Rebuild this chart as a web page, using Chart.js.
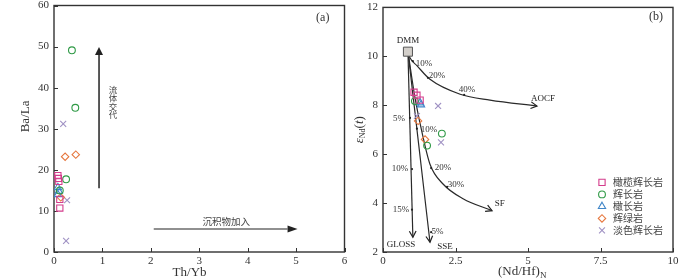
<!DOCTYPE html>
<html>
<head>
<meta charset="utf-8">
<script src="https://cdn.jsdelivr.net/npm/chart.js@4.4.1/dist/chart.umd.min.js"></script>
<style>
  html, body { margin: 0; padding: 0; background: #fff; }
  #wrap { position: relative; width: 700px; height: 280px; }
  canvas { position: absolute; top: 0; }
  #chartA { left: 0; }
  #chartB { left: 350px; }
</style>
</head>
<body>
<div id="wrap">
  <canvas id="chartA" width="350" height="280"></canvas>
  <canvas id="chartB" width="350" height="280"></canvas>
</div>
<script>
// rock types
const seriesNames  = ['橄榄辉长岩', '辉长岩', '橄长岩', '辉绿岩', '淡色辉长岩'];
const seriesColors = ['#d43c8c', '#2f9a46', '#4086c8', '#e6773e', '#a092c4'];
const seriesShapes = ['rect', 'circle', 'triangle', 'rectRot', 'crossRot'];
const seriesRadius = [4.4, 3.4, 4.2, 3.7, 4.2];

// (a) Th/Yb vs Ba/La
const aOlGabbro    = [[0.08, 18.6], [0.09, 17.9], [0.10, 17.2], [0.12, 12.8], [0.12, 10.7]];
const aGabbro      = [[0.37, 49.1], [0.44, 35.1], [0.25, 17.7], [0.12, 15.0]];
const aTroctolite  = [[0.08, 15.7], [0.10, 14.8], [0.08, 14.0]];
const aDiabase     = [[0.23, 23.2], [0.45, 23.7], [0.14, 13.3]];
const aLeucogabbro = [[0.19, 31.2], [0.27, 12.6], [0.25, 2.7]];

// (b) (Nd/Hf)N vs eNd(t)
const bOlGabbro    = [[1.07, 8.53], [1.17, 8.41], [1.28, 8.21]];
const bGabbro      = [[1.10, 8.17], [2.03, 6.84], [1.52, 6.35]];
const bTroctolite  = [[1.28, 8.10], [1.31, 8.02]];
const bDiabase     = [[1.21, 7.36], [1.45, 6.60]];
const bLeucogabbro = [[1.90, 7.97], [1.17, 7.56], [2.00, 6.48]];

// mixing curves from DMM
const dmm       = [[0.86, 10.19]];
const curveAOCF = [[0.86, 10.19], [0.93, 9.94], [1.17, 9.62], [1.62, 9.06], [2.66, 8.45], [3.69, 8.21], [5.31, 7.97]];
const curveSF   = [[0.86, 10.19], [1.10, 8.33], [1.34, 6.92], [1.62, 5.59], [2.07, 4.78], [2.76, 4.18], [3.76, 3.69]];
const lineGLOSS = [[0.86, 10.19], [1.03, 2.60]];
const lineSSE   = [[0.86, 10.19], [1.62, 2.40]];
const mixDots   = [[1.03, 9.80], [1.55, 9.12], [2.80, 8.42], [0.93, 7.48], [1.00, 5.39], [1.00, 3.73],
                   [1.66, 2.81], [1.17, 7.04], [1.66, 5.43], [2.21, 4.66]];

const SERIF = "'Liberation Serif', 'DejaVu Serif', serif";
const CJK = "'Noto Sans CJK SC', sans-serif";

const toXY = arr => arr.map(p => ({ x: p[0], y: p[1] }));

function pointSets(groups) {
  return groups.map((g, i) => ({
    label: seriesNames[i],
    data: toXY(g),
    pointStyle: seriesShapes[i],
    pointRadius: seriesRadius[i],
    pointBorderColor: seriesColors[i],
    pointBackgroundColor: 'rgba(0,0,0,0)',
    pointBorderWidth: 1.1,
    showLine: false,
    order: 0
  }));
}

function curveSet(arr) {
  return {
    data: toXY(arr),
    showLine: true,
    pointRadius: 0,
    borderColor: '#2a2a2a',
    borderWidth: 1.2,
    cubicInterpolationMode: 'monotone',
    fill: false,
    order: 10
  };
}

function makeOptions(o) {
  const tickFont = { family: SERIF, size: 11 };
  return {
    responsive: false,
    animation: false,
    devicePixelRatio: 1,
    layout: { padding: { top: 4, right: o.padRight, left: 0, bottom: 0 } },
    plugins: { legend: { display: false }, tooltip: { enabled: false } },
    scales: {
      x: {
        type: 'linear', min: o.xMin, max: o.xMax,
        grid: { display: false, drawTicks: false }, border: { display: false },
        ticks: { stepSize: o.xStep, padding: 3, color: '#333', font: tickFont, maxRotation: 0, autoSkip: false },
        afterFit(s) { s.height = 28; s.paddingLeft = 0; s.paddingRight = 0; }
      },
      y: {
        type: 'linear', min: o.yMin, max: o.yMax,
        grid: { display: false, drawTicks: false }, border: { display: false },
        ticks: { stepSize: o.yStep, padding: 5, color: '#333', font: tickFont, autoSkip: false },
        afterFit(s) { s.width = o.yWidth; s.paddingTop = 0; s.paddingBottom = 0; }
      }
    }
  };
}

// frame with inward tick marks
const frameTicks = {
  id: 'frameTicks',
  beforeDatasetsDraw(chart) {
    const { ctx, chartArea: a, scales: { x, y } } = chart;
    ctx.save();
    ctx.strokeStyle = '#333';
    ctx.lineWidth = 1;
    ctx.beginPath();
    x.ticks.forEach(t => {
      const p = Math.round(x.getPixelForValue(t.value)) + 0.5;
      ctx.moveTo(p, a.bottom); ctx.lineTo(p, a.bottom - 4);
    });
    y.ticks.forEach(t => {
      const p = Math.round(y.getPixelForValue(t.value)) + 0.5;
      ctx.moveTo(a.left, p); ctx.lineTo(a.left + 4, p);
    });
    ctx.stroke();
    ctx.lineWidth = 1.4;
    ctx.strokeRect(a.left, a.top, a.right - a.left, a.bottom - a.top);
    ctx.restore();
  }
};

function text(ctx, s, px, py, font, color, align) {
  ctx.font = font;
  ctx.fillStyle = color || '#333';
  ctx.textAlign = align || 'center';
  ctx.textBaseline = 'middle';
  ctx.fillText(s, px, py);
}

function openHead(ctx, x0, y0, x1, y1, len) {
  const ang = Math.atan2(y1 - y0, x1 - x0);
  ctx.beginPath();
  ctx.moveTo(x1 - len * Math.cos(ang - 0.5), y1 - len * Math.sin(ang - 0.5));
  ctx.lineTo(x1, y1);
  ctx.lineTo(x1 - len * Math.cos(ang + 0.5), y1 - len * Math.sin(ang + 0.5));
  ctx.stroke();
}

function solidArrow(ctx, x0, y0, x1, y1, len, half, lw) {
  const ang = Math.atan2(y1 - y0, x1 - x0);
  const bx = x1 - len * Math.cos(ang), by = y1 - len * Math.sin(ang);
  ctx.lineWidth = lw;
  ctx.beginPath(); ctx.moveTo(x0, y0); ctx.lineTo(bx, by); ctx.stroke();
  ctx.beginPath();
  ctx.moveTo(x1, y1);
  ctx.lineTo(bx + half * Math.sin(ang), by - half * Math.cos(ang));
  ctx.lineTo(bx - half * Math.sin(ang), by + half * Math.cos(ang));
  ctx.closePath(); ctx.fill();
}

// ---------- panel (a) ----------
const annotA = {
  id: 'annotA',
  afterDatasetsDraw(chart) {
    const { ctx, scales: { x, y } } = chart;
    const X = v => x.getPixelForValue(v), Y = v => y.getPixelForValue(v);
    ctx.save();
    ctx.strokeStyle = '#222'; ctx.fillStyle = '#222';
    solidArrow(ctx, X(0.93), Y(15.5), X(0.93), Y(49.9), 8, 4, 1.5);
    solidArrow(ctx, X(2.06), Y(5.6), X(5.03), Y(5.6), 10, 3.5, 1.2);
    const chars = ['流', '体', '交', '代'];
    chars.forEach((c, i) => text(ctx, c, X(1.22), Y(39.5) + i * 8.4, '8.5px ' + CJK, '#444'));
    text(ctx, '沉积物加入', X(3.56), Y(7.5), '9.5px ' + CJK, '#444');
    text(ctx, '(a)', X(5.55), Y(56.9), '12px ' + SERIF, '#333');
    // axis titles
    text(ctx, 'Th/Yb', X(2.8), 273, '13px ' + SERIF, '#333');
    ctx.translate(26, Y(33));
    ctx.rotate(-Math.PI / 2);
    text(ctx, 'Ba/La', 0, 0, '13px ' + SERIF, '#333');
    ctx.restore();
  }
};

new Chart(document.getElementById('chartA'), {
  type: 'scatter',
  data: { datasets: pointSets([aOlGabbro, aGabbro, aTroctolite, aDiabase, aLeucogabbro]) },
  options: makeOptions({ xMin: 0, xMax: 6, xStep: 1, yMin: 0, yMax: 60, yStep: 10, padRight: 5, yWidth: 54 }),
  plugins: [frameTicks, annotA]
});

// ---------- panel (b) ----------
const pctLabels = [
  ['10%', 1.41, 9.70], ['20%', 1.86, 9.22], ['40%', 2.90, 8.65],
  ['5%', 0.55, 7.44], ['10%', 0.59, 5.39], ['15%', 0.62, 3.73], ['5%', 1.88, 2.85],
  ['10%', 1.59, 7.00], ['20%', 2.07, 5.43], ['30%', 2.52, 4.74]
];
const endLabels = [
  ['DMM', 0.86, 10.63], ['AOCF', 5.52, 8.25], ['SF', 4.03, 3.98], ['GLOSS', 0.62, 2.32], ['SSE', 2.14, 2.20]
];

const annotB = {
  id: 'annotB',
  afterDatasetsDraw(chart) {
    const { ctx, chartArea: a, scales: { x, y } } = chart;
    const X = v => x.getPixelForValue(v), Y = v => y.getPixelForValue(v);
    ctx.save();
    ctx.strokeStyle = '#222'; ctx.lineWidth = 1.2;
    [curveAOCF, curveSF, lineGLOSS, lineSSE].forEach(c => {
      const p = c[c.length - 2], q = c[c.length - 1];
      openHead(ctx, X(p[0]), Y(p[1]), X(q[0]), Y(q[1]), 7);
    });
    ctx.fillStyle = '#222';
    mixDots.forEach(d => { ctx.beginPath(); ctx.arc(X(d[0]), Y(d[1]), 1.1, 0, Math.PI * 2); ctx.fill(); });
    pctLabels.forEach(l => text(ctx, l[0], X(l[1]), Y(l[2]), '9px ' + SERIF, '#333'));
    endLabels.forEach(l => text(ctx, l[0], X(l[1]), Y(l[2]), '9px ' + SERIF, '#222'));
    text(ctx, '(b)', X(9.41), Y(11.6), '12px ' + SERIF, '#333');

    // legend
    const lx = a.left + 219, ly = a.top + 175;
    seriesNames.forEach((n, i) => {
      const yy = ly + i * 12;
      ctx.strokeStyle = seriesColors[i];
      ctx.fillStyle = 'rgba(0,0,0,0)';
      ctx.lineWidth = 1.1;
      if (Chart.helpers && Chart.helpers.drawPoint) {
        Chart.helpers.drawPoint(ctx, { pointStyle: seriesShapes[i], radius: seriesRadius[i], rotation: 0, borderWidth: 1.1 }, lx, yy);
      }
      text(ctx, n, lx + 11, yy, '10px ' + CJK, '#444', 'left');
    });

    // axis titles
    ctx.font = '13px ' + SERIF;
    const t1 = '(Nd/Hf)';
    const w1 = ctx.measureText(t1).width;
    ctx.font = '9px ' + SERIF;
    const w2 = ctx.measureText('N').width;
    const cx = X(4.8), startX = cx - (w1 + w2) / 2;
    text(ctx, t1, startX, 272, '13px ' + SERIF, '#333', 'left');
    text(ctx, 'N', startX + w1, 276, '9px ' + SERIF, '#333', 'left');

    ctx.translate(10, Y(7.0));
    ctx.rotate(-Math.PI / 2);
    const parts = [['ε', 'italic 13px ' + SERIF, 0], ['Nd', '8px ' + SERIF, 3], ['(', '13px ' + SERIF, 0], ['t', 'italic 13px ' + SERIF, 0], [')', '13px ' + SERIF, 0]];
    let total = 0;
    parts.forEach(p => { ctx.font = p[1]; p.push(ctx.measureText(p[0]).width); total += p[3]; });
    let px = -total / 2;
    parts.forEach(p => { text(ctx, p[0], px, p[2], p[1], '#333', 'left'); px += p[3]; });
    ctx.restore();
  }
};

const bDatasets = pointSets([bOlGabbro, bGabbro, bTroctolite, bDiabase, bLeucogabbro]).concat([
  curveSet(curveAOCF), curveSet(curveSF), curveSet(lineGLOSS), curveSet(lineSSE),
  {
    data: toXY(dmm), showLine: false, pointStyle: 'rect', pointRadius: 6.4,
    pointBackgroundColor: '#d3cfca', pointBorderColor: '#555', pointBorderWidth: 1, order: -1
  }
]);

new Chart(document.getElementById('chartB'), {
  type: 'scatter',
  data: { datasets: bDatasets },
  options: makeOptions({ xMin: 0, xMax: 10, xStep: 2.5, yMin: 2, yMax: 12, yStep: 2, padRight: 27, yWidth: 33 }),
  plugins: [frameTicks, annotB]
});
</script>
</body>
</html>
